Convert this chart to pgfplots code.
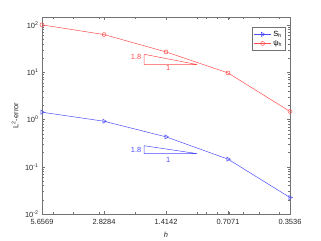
\documentclass[border=0pt]{standalone}
\usepackage{fontspec}
\setmainfont{Liberation Sans}
\usepackage{pgfplots}
\pgfplotsset{compat=1.18}
\definecolor{myred}{rgb}{1,0.3,0.3}
\definecolor{myblue}{rgb}{0.3,0.3,1}
\definecolor{axgray}{rgb}{0.45,0.45,0.45}
\newcommand{\fs}{\fontsize{7.5}{9}\selectfont}
\begin{document}
\begin{tikzpicture}
\path[use as bounding box] (-42bp,-27bp) rectangle (279bp,214bp);
\begin{axis}[
  at={(0,0)}, anchor=south west,
  scale only axis, width=248bp, height=196.7bp,
  xmode=log, ymode=log, x dir=reverse,
  xmin=0.3536, xmax=5.6569, ymin=0.01, ymax=146,
  xtick={0.3536,0.7071,1.4142,2.8284,5.6569},
  xticklabels={0.3536,0.7071,1.4142,2.8284,5.6569},
  minor xtick={0.4,0.5,0.6,0.7,0.8,0.9,1,2,3,4,5},
  ytick={0.01,0.1,1,10,100},
  yticklabels={10\textsuperscript{-2},10\textsuperscript{-1},10\textsuperscript{0},10\textsuperscript{1},10\textsuperscript{2}},
  minor ytick={0.02,0.03,0.04,0.05,0.06,0.07,0.08,0.09,0.2,0.3,0.4,0.5,0.6,0.7,0.8,0.9,2,3,4,5,6,7,8,9,20,30,40,50,60,70,80,90},
  axis line style={axgray}, tick style={axgray, line width=0.4pt},
  major tick length=3bp, minor tick length=1.8bp,
  ticklabel style={font=\fs, text=black!85},
  xticklabel style={yshift=-1.5bp},
  xlabel={\textit{h}}, ylabel={L\textsuperscript{2}-error},
  label style={font=\fs, text=black!85},
  xlabel style={at={(axis description cs:0.5,-0.107)}, anchor=center},
  ylabel style={at={(axis description cs:-0.109,0.5)}, anchor=center},
  legend style={at={(axis description cs:0.983,0.949)}, anchor=north east,
    draw=axgray, font=\fs, inner sep=1.5pt, row sep=-1.5pt, cells={anchor=west}},
  legend image post style={line width=0.5pt},
]
\addplot[myblue, line width=0.5pt, mark=triangle, mark size=2.4pt, mark options={rotate=-90, solid}]
  coordinates {(5.6569,1.43) (2.8284,0.92) (1.4142,0.43) (0.7071,0.145) (0.3536,0.0223)};
\addlegendentry{S\textsubscript{h}}
\addplot[myred, line width=0.5pt, mark=o, mark size=2pt]
  coordinates {(5.6569,101) (2.8284,63) (1.4142,27) (0.7071,9.7) (0.3536,1.48)};
\addlegendentry{ψ\textsubscript{h}}
\addplot[myred, line width=0.5pt, forget plot] coordinates {(1.808,24.1) (1.808,14.6) (1.0,14.6) (1.808,24.1)};
\addplot[myblue, line width=0.5pt, forget plot] coordinates {(1.808,0.279) (1.808,0.19) (1.0,0.19) (1.808,0.279)};
\node[text=myred, anchor=east, font=\fs, inner sep=0.5pt] at (axis cs:1.85,21) {1.8};
\node[text=myred, font=\fs, inner sep=0.5pt] at (axis cs:1.38,12.6) {1};
\node[text=myblue, anchor=east, font=\fs, inner sep=0.5pt] at (axis cs:1.85,0.23) {1.8};
\node[text=myblue, font=\fs, inner sep=0.5pt] at (axis cs:1.38,0.142) {1};
\end{axis}
\end{tikzpicture}
\end{document}
